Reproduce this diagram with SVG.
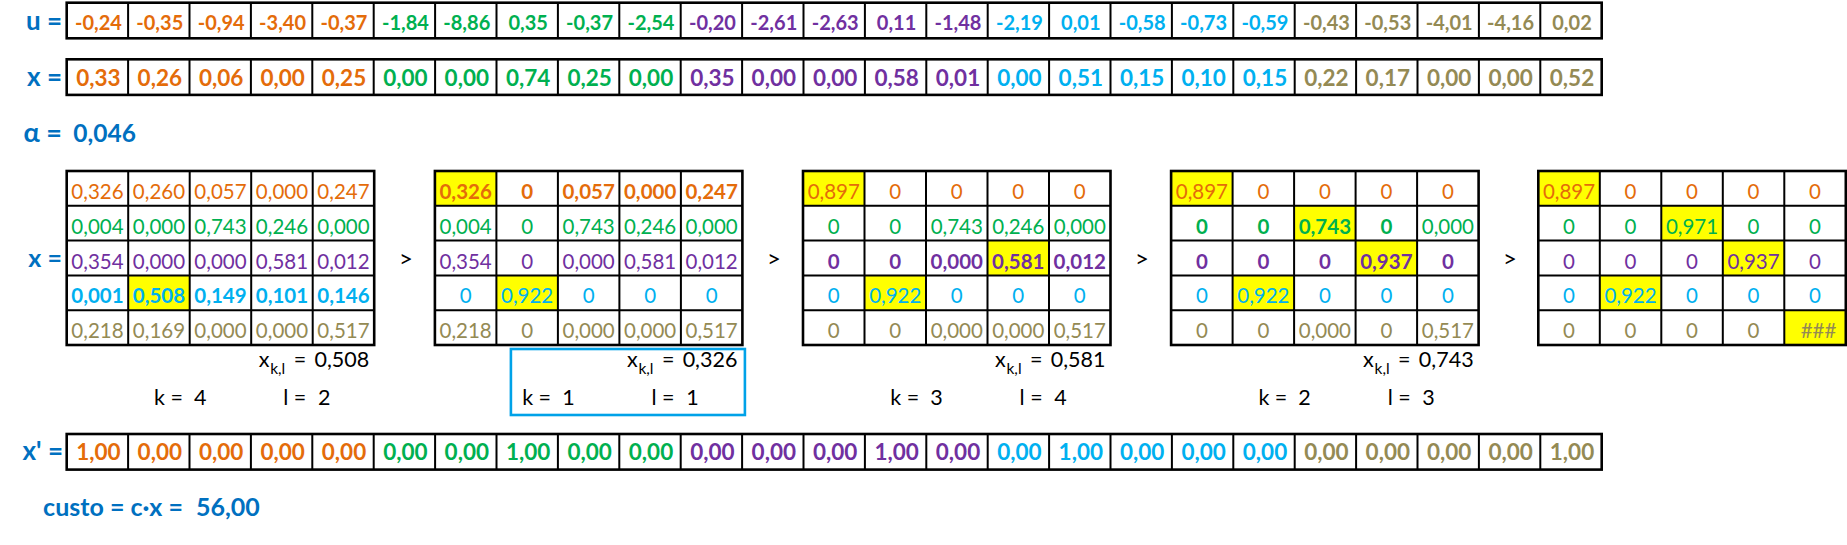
<svg xmlns="http://www.w3.org/2000/svg" xmlns:xlink="http://www.w3.org/1999/xlink" width="1847" height="545" viewBox="0 0 1847 545">
<style>
text{font-family:Lato,"Open Sans","Noto Sans",sans-serif}
.c1{fill:#E46C0A}.c2{fill:#00B050}.c3{fill:#7030A0}.c4{fill:#00B0F0}.c5{fill:#948A54}
.lb{fill:#0070C0;font-weight:700}
.r20{font-size:20px;font-weight:700;text-anchor:middle}
.r22{font-size:22.5px;font-weight:700;text-anchor:middle}
.m{font-size:20.5px;text-anchor:middle}
.b{font-weight:700}
.k{font-size:21.5px;fill:#000}
.sub{font-size:15.5px;fill:#000}
.gt{font-size:24px;fill:#000;text-anchor:middle}
.y{fill:#FFFF00}
.go{fill:none;stroke:#000;stroke-width:2.6}
.gi{fill:none;stroke:#000;stroke-width:2}
</style>
<defs>
<g id="rowgrid">
<rect class="go" x="66.7" y="0" width="1535" height="35.6"/>
<path class="gi" d="M128.1 0V35.6M189.5 0V35.6M250.9 0V35.6M312.3 0V35.6M373.7 0V35.6M435.1 0V35.6M496.5 0V35.6M557.9 0V35.6M619.3 0V35.6M680.7 0V35.6M742.1 0V35.6M803.5 0V35.6M864.9 0V35.6M926.3 0V35.6M987.7 0V35.6M1049.1 0V35.6M1110.5 0V35.6M1171.9 0V35.6M1233.3 0V35.6M1294.7 0V35.6M1356.1 0V35.6M1417.5 0V35.6M1478.9 0V35.6M1540.3 0V35.6"/>
</g>
<g id="mgrid">
<rect class="go" x="0" y="0" width="307.5" height="174"/>
<path class="gi" d="M61.5 0V174M123 0V174M184.5 0V174M246 0V174M0 34.8H307.5M0 69.6H307.5M0 104.4H307.5M0 139.2H307.5"/>
</g>
</defs>
<rect width="1847" height="545" fill="#fff"/>

<g id="row-u">
<use xlink:href="#rowgrid" href="#rowgrid" y="2.7"/>
<text class="lb" x="62" y="30" font-size="26" text-anchor="end">u =</text>
<text class="r20 c1" y="30"><tspan x="98.4">-0,24</tspan><tspan x="159.8">-0,35</tspan><tspan x="221.2">-0,94</tspan><tspan x="282.6">-3,40</tspan><tspan x="344">-0,37</tspan></text>
<text class="r20 c2" y="30"><tspan x="405.4">-1,84</tspan><tspan x="466.8">-8,86</tspan><tspan x="528.2">0,35</tspan><tspan x="589.6">-0,37</tspan><tspan x="651">-2,54</tspan></text>
<text class="r20 c3" y="30"><tspan x="712.4">-0,20</tspan><tspan x="773.8">-2,61</tspan><tspan x="835.2">-2,63</tspan><tspan x="896.6">0,11</tspan><tspan x="958">-1,48</tspan></text>
<text class="r20 c4" y="30"><tspan x="1019.4">-2,19</tspan><tspan x="1080.8">0,01</tspan><tspan x="1142.2">-0,58</tspan><tspan x="1203.6">-0,73</tspan><tspan x="1265">-0,59</tspan></text>
<text class="r20 c5" y="30"><tspan x="1326.4">-0,43</tspan><tspan x="1387.8">-0,53</tspan><tspan x="1449.2">-4,01</tspan><tspan x="1510.6">-4,16</tspan><tspan x="1572">0,02</tspan></text>
</g>

<g id="row-x">
<use xlink:href="#rowgrid" href="#rowgrid" y="59.3"/>
<text class="lb" x="62" y="86" font-size="26" text-anchor="end">x =</text>
<text class="r22 c1" y="86"><tspan x="98.4">0,33</tspan><tspan x="159.8">0,26</tspan><tspan x="221.2">0,06</tspan><tspan x="282.6">0,00</tspan><tspan x="344">0,25</tspan></text>
<text class="r22 c2" y="86"><tspan x="405.4">0,00</tspan><tspan x="466.8">0,00</tspan><tspan x="528.2">0,74</tspan><tspan x="589.6">0,25</tspan><tspan x="651">0,00</tspan></text>
<text class="r22 c3" y="86"><tspan x="712.4">0,35</tspan><tspan x="773.8">0,00</tspan><tspan x="835.2">0,00</tspan><tspan x="896.6">0,58</tspan><tspan x="958">0,01</tspan></text>
<text class="r22 c4" y="86"><tspan x="1019.4">0,00</tspan><tspan x="1080.8">0,51</tspan><tspan x="1142.2">0,15</tspan><tspan x="1203.6">0,10</tspan><tspan x="1265">0,15</tspan></text>
<text class="r22 c5" y="86"><tspan x="1326.4">0,22</tspan><tspan x="1387.8">0,17</tspan><tspan x="1449.2">0,00</tspan><tspan x="1510.6">0,00</tspan><tspan x="1572">0,52</tspan></text>
</g>

<g id="alpha">
<text class="lb" x="62" y="141.5" font-size="27" text-anchor="end">α =</text>
<text class="lb" x="73.3" y="141.5" font-size="24.5">0,046</text>
</g>

<text id="x-label" class="lb" x="62" y="266.5" font-size="25" text-anchor="end">x =</text>

<g id="matrix-1" transform="translate(66.7,171)">
<rect class="y" x="61.5" y="104.4" width="61.5" height="34.8"/>
<use xlink:href="#mgrid" href="#mgrid"/>
<text class="m c1" y="28"><tspan x="30.75">0,326</tspan><tspan x="92.25">0,260</tspan><tspan x="153.75">0,057</tspan><tspan x="215.25">0,000</tspan><tspan x="276.75">0,247</tspan></text>
<text class="m c2" y="62.8"><tspan x="30.75">0,004</tspan><tspan x="92.25">0,000</tspan><tspan x="153.75">0,743</tspan><tspan x="215.25">0,246</tspan><tspan x="276.75">0,000</tspan></text>
<text class="m c3" y="97.6"><tspan x="30.75">0,354</tspan><tspan x="92.25">0,000</tspan><tspan x="153.75">0,000</tspan><tspan x="215.25">0,581</tspan><tspan x="276.75">0,012</tspan></text>
<text class="m b c4" y="132.4"><tspan x="30.75">0,001</tspan><tspan x="92.25">0,508</tspan><tspan x="153.75">0,149</tspan><tspan x="215.25">0,101</tspan><tspan x="276.75">0,146</tspan></text>
<text class="m c5" y="167.2"><tspan x="30.75">0,218</tspan><tspan x="92.25">0,169</tspan><tspan x="153.75">0,000</tspan><tspan x="215.25">0,000</tspan><tspan x="276.75">0,517</tspan></text>
<text class="k" x="192" y="196.3">x</text><text class="sub" x="203.5" y="202.5">k,l</text><text class="k" x="227" y="196.3">=</text><text class="k" x="302.5" y="196.3" text-anchor="end">0,508</text>
<text class="k" x="87.3" y="234">k =</text><text class="k" x="133.5" y="234" text-anchor="middle">4</text>
<text class="k" x="216.6" y="234">l =</text><text class="k" x="257.5" y="234" text-anchor="middle">2</text>
</g>

<g id="matrix-2" transform="translate(434.9,171)">
<rect class="y" x="0" y="0" width="61.5" height="34.8"/>
<rect class="y" x="61.5" y="104.4" width="61.5" height="34.8"/>
<use xlink:href="#mgrid" href="#mgrid"/>
<text class="m b c1" y="28"><tspan x="30.75">0,326</tspan><tspan x="92.25">0</tspan><tspan x="153.75">0,057</tspan><tspan x="215.25">0,000</tspan><tspan x="276.75">0,247</tspan></text>
<text class="m c2" y="62.8"><tspan x="30.75">0,004</tspan><tspan x="92.25">0</tspan><tspan x="153.75">0,743</tspan><tspan x="215.25">0,246</tspan><tspan x="276.75">0,000</tspan></text>
<text class="m c3" y="97.6"><tspan x="30.75">0,354</tspan><tspan x="92.25">0</tspan><tspan x="153.75">0,000</tspan><tspan x="215.25">0,581</tspan><tspan x="276.75">0,012</tspan></text>
<text class="m c4" y="132.4"><tspan x="30.75">0</tspan><tspan x="92.25">0,922</tspan><tspan x="153.75">0</tspan><tspan x="215.25">0</tspan><tspan x="276.75">0</tspan></text>
<text class="m c5" y="167.2"><tspan x="30.75">0,218</tspan><tspan x="92.25">0</tspan><tspan x="153.75">0,000</tspan><tspan x="215.25">0,000</tspan><tspan x="276.75">0,517</tspan></text>
<rect x="76" y="178" width="234" height="66" fill="none" stroke="#00A2E8" stroke-width="2.6"/>
<text class="k" x="192" y="196.3">x</text><text class="sub" x="203.5" y="202.5">k,l</text><text class="k" x="227" y="196.3">=</text><text class="k" x="302.5" y="196.3" text-anchor="end">0,326</text>
<text class="k" x="87.3" y="234">k =</text><text class="k" x="133.5" y="234" text-anchor="middle">1</text>
<text class="k" x="216.6" y="234">l =</text><text class="k" x="257.5" y="234" text-anchor="middle">1</text>
</g>

<g id="matrix-3" transform="translate(803,171)">
<rect class="y" x="0" y="0" width="61.5" height="34.8"/>
<rect class="y" x="184.5" y="69.6" width="61.5" height="34.8"/>
<rect class="y" x="61.5" y="104.4" width="61.5" height="34.8"/>
<use xlink:href="#mgrid" href="#mgrid"/>
<text class="m c1" y="28"><tspan x="30.75">0,897</tspan><tspan x="92.25">0</tspan><tspan x="153.75">0</tspan><tspan x="215.25">0</tspan><tspan x="276.75">0</tspan></text>
<text class="m c2" y="62.8"><tspan x="30.75">0</tspan><tspan x="92.25">0</tspan><tspan x="153.75">0,743</tspan><tspan x="215.25">0,246</tspan><tspan x="276.75">0,000</tspan></text>
<text class="m b c3" y="97.6"><tspan x="30.75">0</tspan><tspan x="92.25">0</tspan><tspan x="153.75">0,000</tspan><tspan x="215.25">0,581</tspan><tspan x="276.75">0,012</tspan></text>
<text class="m c4" y="132.4"><tspan x="30.75">0</tspan><tspan x="92.25">0,922</tspan><tspan x="153.75">0</tspan><tspan x="215.25">0</tspan><tspan x="276.75">0</tspan></text>
<text class="m c5" y="167.2"><tspan x="30.75">0</tspan><tspan x="92.25">0</tspan><tspan x="153.75">0,000</tspan><tspan x="215.25">0,000</tspan><tspan x="276.75">0,517</tspan></text>
<text class="k" x="192" y="196.3">x</text><text class="sub" x="203.5" y="202.5">k,l</text><text class="k" x="227" y="196.3">=</text><text class="k" x="302.5" y="196.3" text-anchor="end">0,581</text>
<text class="k" x="87.3" y="234">k =</text><text class="k" x="133.5" y="234" text-anchor="middle">3</text>
<text class="k" x="216.6" y="234">l =</text><text class="k" x="257.5" y="234" text-anchor="middle">4</text>
</g>

<g id="matrix-4" transform="translate(1171.1,171)">
<rect class="y" x="0" y="0" width="61.5" height="34.8"/>
<rect class="y" x="123" y="34.8" width="61.5" height="34.8"/>
<rect class="y" x="184.5" y="69.6" width="61.5" height="34.8"/>
<rect class="y" x="61.5" y="104.4" width="61.5" height="34.8"/>
<use xlink:href="#mgrid" href="#mgrid"/>
<text class="m c1" y="28"><tspan x="30.75">0,897</tspan><tspan x="92.25">0</tspan><tspan x="153.75">0</tspan><tspan x="215.25">0</tspan><tspan x="276.75">0</tspan></text>
<text class="m c2" y="62.8"><tspan class="b" x="30.75">0</tspan><tspan class="b" x="92.25">0</tspan><tspan class="b" x="153.75">0,743</tspan><tspan class="b" x="215.25">0</tspan><tspan x="276.75">0,000</tspan></text>
<text class="m b c3" y="97.6"><tspan x="30.75">0</tspan><tspan x="92.25">0</tspan><tspan x="153.75">0</tspan><tspan x="215.25">0,937</tspan><tspan x="276.75">0</tspan></text>
<text class="m c4" y="132.4"><tspan x="30.75">0</tspan><tspan x="92.25">0,922</tspan><tspan x="153.75">0</tspan><tspan x="215.25">0</tspan><tspan x="276.75">0</tspan></text>
<text class="m c5" y="167.2"><tspan x="30.75">0</tspan><tspan x="92.25">0</tspan><tspan x="153.75">0,000</tspan><tspan x="215.25">0</tspan><tspan x="276.75">0,517</tspan></text>
<text class="k" x="192" y="196.3">x</text><text class="sub" x="203.5" y="202.5">k,l</text><text class="k" x="227" y="196.3">=</text><text class="k" x="302.5" y="196.3" text-anchor="end">0,743</text>
<text class="k" x="87.3" y="234">k =</text><text class="k" x="133.5" y="234" text-anchor="middle">2</text>
<text class="k" x="216.6" y="234">l =</text><text class="k" x="257.5" y="234" text-anchor="middle">3</text>
</g>

<g id="matrix-5" transform="translate(1538.3,171)">
<rect class="y" x="0" y="0" width="61.5" height="34.8"/>
<rect class="y" x="123" y="34.8" width="61.5" height="34.8"/>
<rect class="y" x="184.5" y="69.6" width="61.5" height="34.8"/>
<rect class="y" x="61.5" y="104.4" width="61.5" height="34.8"/>
<rect class="y" x="246" y="139.2" width="61.5" height="34.8"/>
<use xlink:href="#mgrid" href="#mgrid"/>
<text class="m c1" y="28"><tspan x="30.75">0,897</tspan><tspan x="92.25">0</tspan><tspan x="153.75">0</tspan><tspan x="215.25">0</tspan><tspan x="276.75">0</tspan></text>
<text class="m c2" y="62.8"><tspan x="30.75">0</tspan><tspan x="92.25">0</tspan><tspan x="153.75">0,971</tspan><tspan x="215.25">0</tspan><tspan x="276.75">0</tspan></text>
<text class="m c3" y="97.6"><tspan x="30.75">0</tspan><tspan x="92.25">0</tspan><tspan x="153.75">0</tspan><tspan x="215.25">0,937</tspan><tspan x="276.75">0</tspan></text>
<text class="m c4" y="132.4"><tspan x="30.75">0</tspan><tspan x="92.25">0,922</tspan><tspan x="153.75">0</tspan><tspan x="215.25">0</tspan><tspan x="276.75">0</tspan></text>
<text class="m c5" y="167.2"><tspan x="30.75">0</tspan><tspan x="92.25">0</tspan><tspan x="153.75">0</tspan><tspan x="215.25">0</tspan></text>
<text class="c5" x="298" y="167.2" font-size="20.5" text-anchor="end">###</text>
</g>

<g id="connectors">
<text class="gt" x="406" y="267">&gt;</text>
<text class="gt" x="774" y="267">&gt;</text>
<text class="gt" x="1142" y="267">&gt;</text>
<text class="gt" x="1510" y="267">&gt;</text>
</g>

<g id="row-xprime">
<use xlink:href="#rowgrid" href="#rowgrid" y="434"/>
<text class="lb" x="63" y="460" font-size="26" text-anchor="end">x' =</text>
<text class="r22 c1" y="460"><tspan x="98.4">1,00</tspan><tspan x="159.8">0,00</tspan><tspan x="221.2">0,00</tspan><tspan x="282.6">0,00</tspan><tspan x="344">0,00</tspan></text>
<text class="r22 c2" y="460"><tspan x="405.4">0,00</tspan><tspan x="466.8">0,00</tspan><tspan x="528.2">1,00</tspan><tspan x="589.6">0,00</tspan><tspan x="651">0,00</tspan></text>
<text class="r22 c3" y="460"><tspan x="712.4">0,00</tspan><tspan x="773.8">0,00</tspan><tspan x="835.2">0,00</tspan><tspan x="896.6">1,00</tspan><tspan x="958">0,00</tspan></text>
<text class="r22 c4" y="460"><tspan x="1019.4">0,00</tspan><tspan x="1080.8">1,00</tspan><tspan x="1142.2">0,00</tspan><tspan x="1203.6">0,00</tspan><tspan x="1265">0,00</tspan></text>
<text class="r22 c5" y="460"><tspan x="1326.4">0,00</tspan><tspan x="1387.8">0,00</tspan><tspan x="1449.2">0,00</tspan><tspan x="1510.6">0,00</tspan><tspan x="1572">1,00</tspan></text>
</g>

<g id="custo">
<text class="lb" x="183" y="516" font-size="25" text-anchor="end">custo = c·x =</text>
<text class="lb" x="196" y="516" font-size="25">56,00</text>
</g>
</svg>
